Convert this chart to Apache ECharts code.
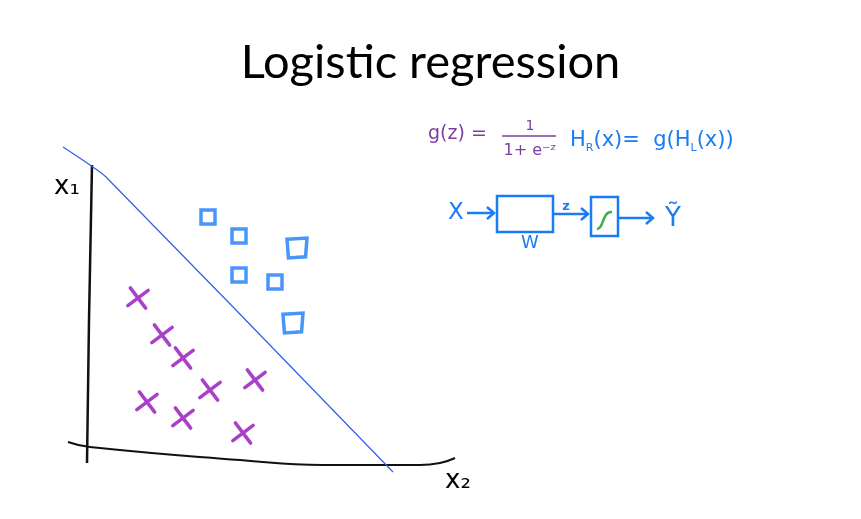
<!DOCTYPE html>
<html>
<head>
<meta charset="utf-8">
<script src="https://cdn.jsdelivr.net/npm/echarts@6/dist/echarts.min.js"></script>
<style>
  html, body { margin: 0; padding: 0; background: #fff; }
  #chart { width: 861px; height: 519px; }
</style>
</head>
<body>
<div id="chart"></div>
<script>
// 叉号 (y = 0 类)
const crossX = [138, 162, 183, 255, 210, 147, 183, 243]
const crossY = [298, 335, 358, 380, 390, 402, 418, 433]
// 方块 (y = 1 类)
const squareX = [208, 239, 239, 275]
const squareY = [217, 236, 275, 282]
const bigSquareX = [297, 293]
const bigSquareY = [248, 323]
// 决策边界
const boundaryX = [63, 90, 106, 393]
const boundaryY = [147, 165, 177, 472]
// 手绘坐标轴
const axisX1X = [92, 89, 87]
const axisX1Y = [165, 320, 463]
const axisX2X = [68, 90, 240, 323, 420, 440, 455]
const axisX2Y = [442, 447, 460, 465, 465, 463, 458]

const pairs = (xs, ys) => xs.map((x, i) => [x, ys[i]])

const purple = '#9410bd'
const blue = '#1a7cf5'
const penPurple = '#7b3fa0'

const myCharts = echarts.init(document.getElementById('chart'))

// 小箭头
function arrow(x1, y, x2) {
  return [
    { type: 'polyline', shape: { points: [[x1, y], [x2, y]] }, style: { stroke: blue, lineWidth: 2.5, fill: null } },
    { type: 'polyline', shape: { points: [[x2 - 7, y - 6], [x2, y], [x2 - 7, y + 6]] }, style: { stroke: blue, lineWidth: 2.5, fill: null } }
  ]
}

const option = {
  animation: false,
  backgroundColor: '#fff',
  title: {
    text: 'Logistic regression',
    left: 'center',
    top: 34,
    textStyle: { fontFamily: 'Lato', fontWeight: 'normal', fontSize: 47, color: '#000' }
  },
  grid: { left: 0, right: 0, top: 0, bottom: 0 },
  xAxis: { type: 'value', min: 0, max: 861, show: false },
  yAxis: { type: 'value', min: 0, max: 519, inverse: true, show: false },
  graphic: [
    // 坐标轴标签
    { type: 'text', x: 67, y: 187, style: { text: 'x₁', font: '26px "DejaVu Sans"', fill: '#000', align: 'center', verticalAlign: 'middle' } },
    { type: 'text', x: 458, y: 481, style: { text: 'x₂', font: '26px "DejaVu Sans"', fill: '#000', align: 'center', verticalAlign: 'middle' } },
    // g(z) = 1 / (1 + e^-z)
    { type: 'text', x: 428, y: 134, style: { text: 'g(z) =', font: '19px "DejaVu Sans"', fill: penPurple, verticalAlign: 'middle' } },
    { type: 'text', x: 530, y: 126, style: { text: '1', font: '14px "DejaVu Sans"', fill: penPurple, align: 'center', verticalAlign: 'middle' } },
    { type: 'line', shape: { x1: 502, y1: 136, x2: 556, y2: 136 }, style: { stroke: penPurple, lineWidth: 1.5 } },
    { type: 'text', x: 530, y: 151, style: { text: '1+ e⁻ᶻ', font: '16px "DejaVu Sans"', fill: penPurple, align: 'center', verticalAlign: 'middle' } },
    // H_R(x) = g(H_L(x))
    {
      type: 'text', x: 570, y: 128,
      style: {
        text: '{a|H}{s|R}{a|(x)=  g(H}{s|L}{a|(x))}',
        fill: blue,
        rich: {
          a: { fontSize: 21, fontFamily: 'DejaVu Sans', color: blue, lineHeight: 26 },
          s: { fontSize: 11, fontFamily: 'DejaVu Sans', color: blue, verticalAlign: 'bottom', lineHeight: 26 }
        }
      }
    },
    // X -> [W] -> z -> [S] -> Y
    { type: 'text', x: 456, y: 213, style: { text: 'X', font: '23px "DejaVu Sans"', fill: blue, align: 'center', verticalAlign: 'middle' } },
    ...arrow(467, 213, 494),
    { type: 'rect', shape: { x: 497, y: 196, width: 56, height: 36 }, style: { stroke: blue, lineWidth: 2.5, fill: null } },
    { type: 'text', x: 530, y: 243, style: { text: 'W', font: '18px "DejaVu Sans"', fill: blue, align: 'center', verticalAlign: 'middle' } },
    ...arrow(553, 214, 588),
    { type: 'text', x: 566, y: 207, style: { text: 'z', font: 'bold 13px "DejaVu Sans"', fill: blue, align: 'center', verticalAlign: 'middle' } },
    { type: 'rect', shape: { x: 591, y: 197, width: 27, height: 39 }, style: { stroke: blue, lineWidth: 2.5, fill: null } },
    { type: 'bezierCurve', shape: { x1: 597, y1: 229, cpx1: 604, cpy1: 229, cpx2: 602, cpy2: 211, x2: 612, y2: 212 }, style: { stroke: '#3cb043', lineWidth: 2.5, fill: null } },
    ...arrow(618, 218, 653),
    { type: 'text', x: 673, y: 219, style: { text: 'Ỹ', font: '26px "DejaVu Sans"', fill: blue, align: 'center', verticalAlign: 'middle' } }
  ],
  series: [
    {
      name: 'x1 axis', type: 'line', data: pairs(axisX1X, axisX1Y), showSymbol: false, smooth: true,
      lineStyle: { color: '#111', width: 2.5 }
    },
    {
      name: 'x2 axis', type: 'line', data: pairs(axisX2X, axisX2Y), showSymbol: false, smooth: true,
      lineStyle: { color: '#111', width: 2 }
    },
    {
      name: 'boundary', type: 'line', data: pairs(boundaryX, boundaryY), showSymbol: false, smooth: 0.3,
      lineStyle: { color: '#2f5fe8', width: 1.2 }
    },
    {
      name: 'cross', type: 'scatter', data: pairs(crossX, crossY),
      symbol: 'path://M0,0L10,10M10,0L0,10', symbolSize: 18, symbolRotate: -8,
      itemStyle: { color: 'rgba(0,0,0,0)', borderColor: purple, borderWidth: 3.5, borderCap: 'round' }
    },
    {
      name: 'square', type: 'scatter', data: pairs(squareX, squareY),
      symbol: 'rect', symbolSize: 14,
      itemStyle: { color: 'rgba(0,0,0,0)', borderColor: blue, borderWidth: 3.5 }
    },
    {
      name: 'big square', type: 'scatter', data: pairs(bigSquareX, bigSquareY),
      symbol: 'path://M0,1L14,0L13,15L1,16Z', symbolSize: 20,
      itemStyle: { color: 'rgba(0,0,0,0)', borderColor: blue, borderWidth: 3.5 }
    }
  ]
}
myCharts.setOption(option)
</script>
</body>
</html>
